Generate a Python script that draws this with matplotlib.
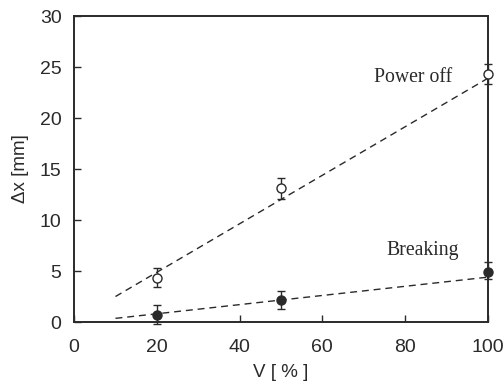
import matplotlib
matplotlib.use("Agg")
import matplotlib.pyplot as plt
import numpy as np

# data
v = [20, 50, 100]
power_off = [4.35, 13.1, 24.3]
power_off_err = [0.95, 1.0, 1.0]
breaking = [0.7, 2.15, 4.9]
breaking_err_lo = [0.9, 0.85, 0.65]
breaking_err_hi = [0.95, 0.9, 1.0]

# dashed trend lines (end points)
fit_v = [10, 100]
fit_off = [2.5, 23.9]
fit_brk = [0.36, 4.4]

ink = "#2a2a2a"
plt.rcParams["font.family"] = ["Liberation Sans", "DejaVu Sans"]

fig = plt.figure(figsize=(5.04, 3.82), dpi=100)
ax = fig.add_axes([0.147, 0.157, 0.821, 0.801])

ax.plot(fit_v, fit_off, ls=(0, (5, 3.5)), color=ink, lw=1.0)
ax.plot(fit_v, fit_brk, ls=(0, (5, 3.5)), color=ink, lw=1.0)

ax.errorbar(v, power_off, yerr=power_off_err, fmt="o", mfc="white", mec=ink,
            ms=6.5, mew=1.0, ecolor=ink, elinewidth=1.0, capsize=2.8,
            capthick=1.0, clip_on=False, zorder=3)
ax.errorbar(v, breaking, yerr=[breaking_err_lo, breaking_err_hi], fmt="o",
            mfc=ink, mec=ink, ms=6.5, mew=1.0, ecolor=ink, elinewidth=1.0,
            capsize=2.8, capthick=1.0, clip_on=False, zorder=3)

ax.text(72.5, 23.5, "Power off", family=["Liberation Serif", "DejaVu Serif"],
        fontsize=14.2, color=ink)
ax.text(75.4, 6.55, "Breaking", family=["Liberation Serif", "DejaVu Serif"],
        fontsize=14.2, color=ink)

ax.set_xlim(0, 100)
ax.set_ylim(0, 30)
ax.set_xticks(np.arange(0, 101, 20))
ax.set_yticks(np.arange(0, 31, 5))
ax.tick_params(direction="in", length=5, width=1.0, colors=ink,
               labelsize=14, top=False, right=False)
ax.tick_params(axis="x", pad=12)
ax.tick_params(axis="y", pad=9)
for s in ax.spines.values():
    s.set_linewidth(1.4)
    s.set_color(ink)

ax.set_xlabel("V [ % ]", fontsize=13.5, color=ink, labelpad=6)
ax.set_ylabel("Δx [mm]", fontsize=13.5, color=ink, labelpad=8)

fig.savefig("out.png", dpi=100)
